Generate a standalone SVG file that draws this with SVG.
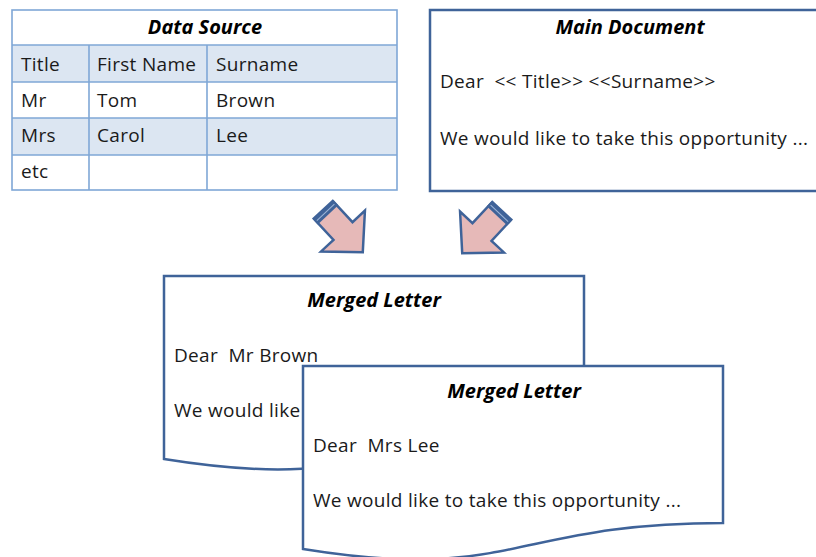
<svg xmlns="http://www.w3.org/2000/svg" width="816" height="557" viewBox="0 0 816 557">
<style>
.tl{fill:none;stroke:#7fa7d6;stroke-width:1.6}
.doc{fill:#ffffff;stroke:#3f6399;stroke-width:2.5}
.t{font-family:"Open Sans","Liberation Sans",sans-serif;font-size:19px;letter-spacing:0.3px;fill:#1a1a1a}
.h{font-family:"Open Sans","Liberation Sans",sans-serif;font-size:20px;font-weight:bold;font-style:italic;fill:#000;text-anchor:middle}
.arr{fill:#e6b9b8;stroke:#3f6399;stroke-width:2.5;stroke-linejoin:miter}
.band{fill:#3f6399}
</style>
<defs>
<g id="arrowShape">
<polygon class="arr" points="-29,-13 0,-13 0,-30 29,0 0,30 0,13 -29,13"/>
<rect class="band" x="-29" y="-14" width="7" height="28"/>
<line x1="-25.5" y1="-12" x2="-25.5" y2="12" stroke="#9fb6d8" stroke-width="1"/>
</g>
</defs>
<g id="data-source">
<rect x="12" y="45" width="385" height="37" fill="#dce6f2"/>
<rect x="12" y="118" width="385" height="37" fill="#dce6f2"/>
<rect class="tl" x="12" y="10" width="385" height="180"/>
<line class="tl" x1="12" y1="45" x2="397" y2="45"/>
<line class="tl" x1="12" y1="82" x2="397" y2="82"/>
<line class="tl" x1="12" y1="118" x2="397" y2="118"/>
<line class="tl" x1="12" y1="155" x2="397" y2="155"/>
<line class="tl" x1="89" y1="45" x2="89" y2="190"/>
<line class="tl" x1="207" y1="45" x2="207" y2="190"/>
<text class="h" x="205" y="34">Data Source</text>
<text class="t" x="21" y="71">Title</text>
<text class="t" x="97" y="71">First Name</text>
<text class="t" x="216" y="71">Surname</text>
<text class="t" x="21" y="107">Mr</text>
<text class="t" x="97" y="107">Tom</text>
<text class="t" x="216" y="107">Brown</text>
<text class="t" x="21" y="142">Mrs</text>
<text class="t" x="97" y="142">Carol</text>
<text class="t" x="216" y="142">Lee</text>
<text class="t" x="21" y="178">etc</text>
</g>
<g id="main-document">
<rect class="doc" x="430" y="10" width="400" height="181"/>
<text class="h" x="630" y="34">Main Document</text>
<text class="t" x="440" y="88" xml:space="preserve">Dear  &lt;&lt; Title&gt;&gt; &lt;&lt;Surname&gt;&gt;</text>
<text class="t" x="440" y="145">We would like to take this opportunity ...</text>
</g>
<g id="connectors">
<use href="#arrowShape" transform="translate(343,231) rotate(47)"/>
<use href="#arrowShape" transform="translate(482,232) rotate(133)"/>
</g>
<g id="merged-letter-1">
<path class="doc" d="M164,276 H584 V433 C374,433 374,493 164,459 Z"/>
<text class="h" x="374" y="307">Merged Letter</text>
<text class="t" x="174" y="362" xml:space="preserve">Dear  Mr Brown</text>
<text class="t" x="174" y="417">We would like</text>
</g>
<g id="merged-letter-2">
<path class="doc" d="M303,366 H723 V523 C513,523 513,583 303,549 Z"/>
<text class="h" x="514" y="398">Merged Letter</text>
<text class="t" x="313" y="452" xml:space="preserve">Dear  Mrs Lee</text>
<text class="t" x="313" y="507">We would like to take this opportunity ...</text>
</g>
</svg>
